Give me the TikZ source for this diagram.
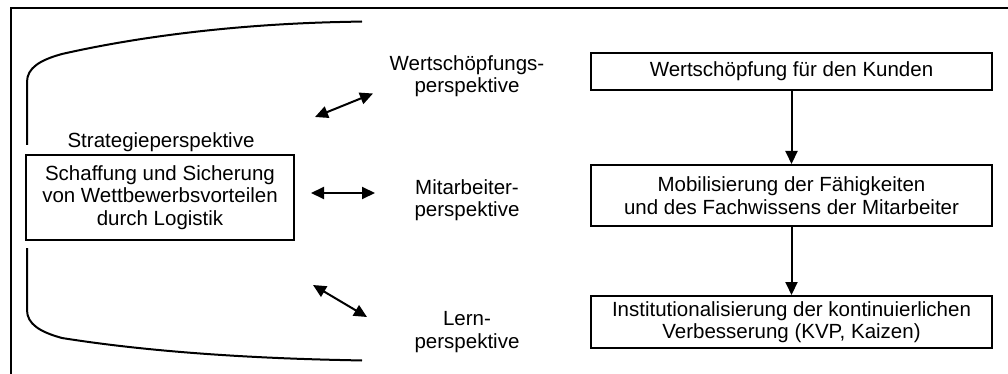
\documentclass[tikz,border=0pt]{standalone}
\usepackage{fontspec}
\setmainfont{Liberation Sans}
\usetikzlibrary{arrows.meta}
\begin{document}
\begin{tikzpicture}[x=1pt,y=-1pt,
  txt/.style={font=\fontsize{20.5}{22.5}\selectfont, align=center, inner sep=0pt},
  box/.style={draw, line width=2pt, txt},
  link/.style={line width=2pt, {Triangle[length=13pt,width=12pt]}-{Triangle[length=13pt,width=12pt]}},
  flow/.style={line width=2pt, -{Triangle[length=13pt,width=12pt]}},
  rim/.style={line width=2pt}]
\useasboundingbox (0,0) rectangle (1008,374);
% outer frame (open to the right and bottom)
\draw[line width=1.6pt] (1008,8) -- (11,8) -- (11,374);
% bracket around the strategy perspective
\draw[rim] (27,145) -- (27,82) .. controls (27,68) and (40,60) .. (62,54)
  .. controls (150,34) and (250,24) .. (340,22) -- (362,21.5);
\draw[rim] (27,248) -- (27,310) .. controls (27,324) and (40,332) .. (62,338)
  .. controls (150,352) and (250,358) .. (340,360) -- (362,360.5);
% strategy perspective
\node[txt] (stitle) at (161,142) {Strategieperspektive};
\node[draw, line width=1.6pt, minimum width=268pt, minimum height=85pt, txt] (strat) at (160,197.5)
  {Schaffung und Sicherung\\von Wettbewerbsvorteilen\\durch Logistik};
% perspective labels
\node[txt] (pw) at (467,76) {Wertschöpfungs-\\perspektive};
\node[txt] (pm) at (467,200) {Mitarbeiter-\\perspektive};
\node[txt] (pl) at (467,332) {Lern-\\perspektive};
% double arrows
\coordinate (a1) at (315,117); \coordinate (b1) at (373,93.5);
\coordinate (a2) at (311,193); \coordinate (b2) at (375,193);
\coordinate (a3) at (313,285); \coordinate (b3) at (367,317);
\draw[link] (a1) -- (b1);
\draw[link] (a2) -- (b2);
\draw[link] (a3) -- (b3);
% value chain boxes
\node[box, minimum width=401pt, minimum height=37pt] (w) at (791.5,71.5) {Wertschöpfung für den Kunden};
\node[box, minimum width=401pt, minimum height=61pt] (m) at (791.5,195.5) {Mobilisierung der Fähigkeiten\\und des Fachwissens der Mitarbeiter};
\node[box, minimum width=401pt, minimum height=52pt] (l) at (791.5,322) {Institutionalisierung der kontinuierlichen\\Verbesserung (KVP, Kaizen)};
\draw[flow] (w) -- (m);
\draw[flow] (m) -- (l);
\end{tikzpicture}
\end{document}
